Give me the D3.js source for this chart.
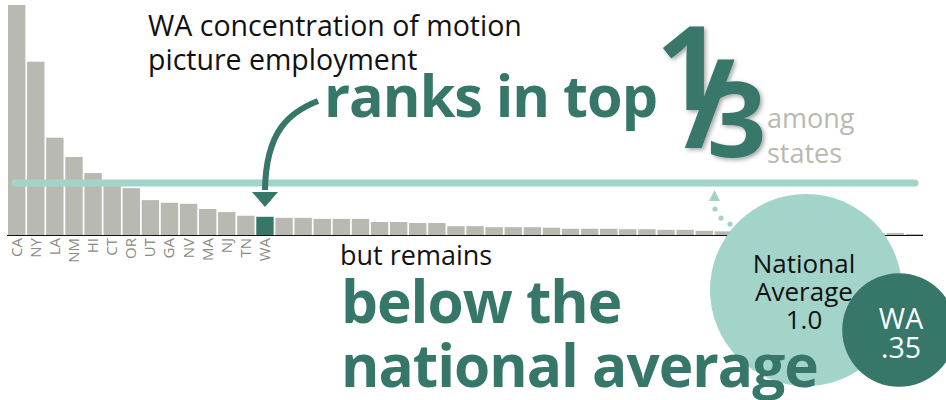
<!DOCTYPE html>
<meta charset="utf-8">
<style>
body { margin: 0; background: #fff; }
text { font-family: "Open Sans", "Noto Sans", sans-serif; }
.bar { fill: #b8b9b0; }
.bar.wa { fill: #37776a; }
.tick-label { fill: #8a8a85; font-size: 15px; }
.green { fill: #37776a; font-weight: 700; }
</style>
<body>
<script src="https://d3js.org/d3.v7.min.js"></script>
<script>

// location quotient of motion picture employment, states ranked
var values = [4.42, 3.33, 1.87, 1.50, 1.19, 1.04, 0.90, 0.67, 0.62, 0.60, 0.50, 0.44, 0.37, 0.35,
              0.33, 0.33, 0.31, 0.31, 0.31, 0.25, 0.25, 0.23, 0.23, 0.17, 0.17,
              0.15, 0.15, 0.15, 0.14, 0.12, 0.12, 0.12, 0.11, 0.11, 0.10, 0.10, 0.08, 0.07,
              0.07, 0.06, 0.06, 0.06, 0.05, 0.05, 0.05, 0.04, 0.04, 0.02];
var tickLabels = ["CA", "NY", "LA", "NM", "HI", "CT", "OR", "UT", "GA", "NV", "MA", "NJ", "TN", "WA"];
var highlight = 13;   // WA
var nationalAverage = 1.0;
var waValue = 0.35;

var width = 946, height = 400;

var svg = d3.select("body").append("svg")
    .attr("width", width)
    .attr("height", height);

var defs = svg.append("defs");
var shadow = defs.append("filter").attr("id", "shadow")
    .attr("x", "-20%").attr("y", "-20%").attr("width", "150%").attr("height", "150%");
shadow.append("feDropShadow")
    .attr("dx", 2).attr("dy", 2).attr("stdDeviation", 2)
    .attr("flood-color", "#000").attr("flood-opacity", 0.35);

var x = d3.scaleBand()
    .domain(d3.range(values.length))
    .range([8, 923])
    .paddingInner(0.09);

var y = d3.scaleLinear()
    .domain([0, d3.max(values)])
    .range([235, 5]);

// bars
svg.selectAll(".bar")
    .data(values)
  .enter().append("rect")
    .attr("class", function(d, i) { return i == highlight ? "bar wa" : "bar"; })
    .attr("x", function(d, i) { return x(i); })
    .attr("y", function(d) { return y(d); })
    .attr("width", x.bandwidth())
    .attr("height", function(d) { return y(0) - y(d); });

// baseline
svg.append("line")
    .attr("x1", 7).attr("x2", 923)
    .attr("y1", y(0) + 0.5).attr("y2", y(0) + 0.5)
    .attr("stroke", "#111").attr("stroke-width", 1);

// state labels
svg.selectAll(".tick-label")
    .data(tickLabels)
  .enter().append("text")
    .attr("class", "tick-label")
    .attr("text-anchor", "end")
    .attr("transform", function(d, i) {
      return "translate(" + (x(i) + x.bandwidth() / 2 + 5) + "," + (y(0) + 3) + ") rotate(-90)";
    })
    .text(function(d) { return d; });

// national average line
svg.append("line")
    .attr("x1", 15).attr("x2", 915)
    .attr("y1", y(nationalAverage)).attr("y2", y(nationalAverage))
    .attr("stroke", "#a3d4c9").attr("stroke-width", 7)
    .attr("stroke-linecap", "round");

// title
svg.append("text").attr("x", 148).attr("y", 36)
    .attr("font-size", 28.5).attr("fill", "#111")
    .text("WA concentration of motion");
svg.append("text").attr("x", 148).attr("y", 70)
    .attr("font-size", 28.5).attr("fill", "#111")
    .text("picture employment");

svg.append("text").attr("class", "green")
    .attr("x", 324).attr("y", 117)
    .attr("font-size", 57.5)
    .attr("letter-spacing", -1)
    .text("ranks in top");

// big 1/3
var frac = svg.append("g").attr("filter", "url(#shadow)");
frac.append("text").attr("class", "green")
    .attr("x", 656).attr("y", 110).attr("font-size", 116).text("1");
frac.append("text").attr("class", "green")
    .attr("x", 684).attr("y", 148).attr("font-size", 124).text("/");
frac.append("text").attr("class", "green")
    .attr("x", 707).attr("y", 157).attr("font-size", 104).text("3");

svg.append("text").attr("x", 767).attr("y", 128)
    .attr("font-size", 27).attr("fill", "#b8b9b0").text("among");
svg.append("text").attr("x", 767).attr("y", 163)
    .attr("font-size", 27).attr("fill", "#b8b9b0").text("states");

// arrow to WA
var wx = x(highlight) + x.bandwidth() / 2;
svg.append("path")
    .attr("d", "M318,101 C290,112 266,130 " + wx + ",190")
    .attr("fill", "none").attr("stroke", "#37776a").attr("stroke-width", 6);
svg.append("path")
    .attr("d", "M" + (wx - 13) + ",192 L" + (wx + 13) + ",192 L" + wx + ",207 Z")
    .attr("fill", "#37776a");

// dotted arrow up to the average line
svg.selectAll(".dot")
    .data([[730, 224], [721, 218], [715, 209]])
  .enter().append("circle")
    .attr("cx", function(d) { return d[0]; })
    .attr("cy", function(d) { return d[1]; })
    .attr("r", 2.6)
    .attr("fill", "#a3d4c9");
svg.append("path")
    .attr("d", "M709,201 L720,201 L714.5,190 Z")
    .attr("fill", "#a3d4c9");

// national average circle (area ~ value)
var r = d3.scaleSqrt().domain([0, 1]).range([0, 96]);
svg.append("circle")
    .attr("cx", 806).attr("cy", 290).attr("r", r(nationalAverage))
    .attr("fill", "#a3d4c9");

svg.append("text").attr("x", 340).attr("y", 265)
    .attr("font-size", 27).attr("fill", "#111").text("but remains");
svg.append("text").attr("class", "green")
    .attr("x", 341).attr("y", 323).attr("font-size", 58.5)
    .attr("letter-spacing", -1).text("below the");
svg.append("text").attr("class", "green")
    .attr("x", 341).attr("y", 387).attr("font-size", 58.5)
    .attr("letter-spacing", -1).text("national average");

var avgText = svg.append("text").attr("text-anchor", "middle")
    .attr("font-size", 26).attr("fill", "#111");
["National", "Average", nationalAverage.toFixed(1)].forEach(function(t, i) {
  avgText.append("tspan").attr("x", 804).attr("y", 273 + i * 28).text(t);
});

// WA circle
svg.append("circle")
    .attr("cx", 899).attr("cy", 330).attr("r", r(waValue))
    .attr("fill", "#37776a");
var waText = svg.append("text").attr("text-anchor", "middle")
    .attr("font-size", 28.5).attr("fill", "#fff");
["WA", String(waValue).replace(/^0/, "")].forEach(function(t, i) {
  waText.append("tspan").attr("x", 901).attr("y", 329 + i * 29).text(t);
});

</script>
</body>
